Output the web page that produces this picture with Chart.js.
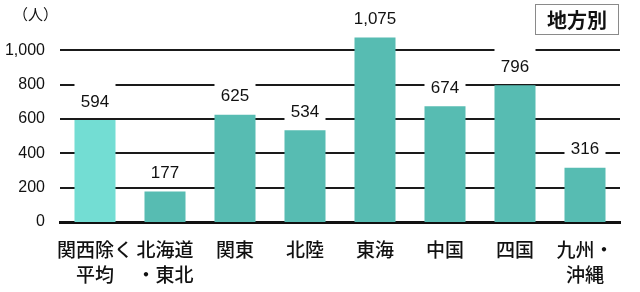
<!DOCTYPE html>
<html>
<head>
<meta charset="utf-8">
<script src="https://cdn.jsdelivr.net/npm/chart.js@4/dist/chart.umd.min.js"></script>
<style>
  html, body { margin: 0; padding: 0; background: #fff; }
  #wrap { position: relative; width: 640px; height: 292px; }
  #unit { position: absolute; left: 13px; top: 3px; font: 15px "Noto Sans CJK JP", sans-serif; color: #111; }
  #tag { position: absolute; left: 535px; top: 4px; width: 82px; height: 29px; border: 1.5px solid #8a8a8a;
         font: bold 20px "Noto Sans CJK JP", sans-serif; color: #111; text-align: center; line-height: 29px; }
</style>
</head>
<body>
<div id="wrap">
  <canvas id="c" width="640" height="292"></canvas>
  <div id="unit">（人）</div>
  <div id="tag">地方別</div>
</div>
<script>
const categories = [["関西除く","平均"], ["北海道","・東北"], "関東", "北陸", "東海", "中国", "四国", ["九州・","沖縄"]];
const values = [594, 177, 625, 534, 1075, 674, 796, 316];
const tickValues = [0, 200, 400, 600, 800, 1000];
const barColors = ["#73DDD3", "#57BCB2", "#57BCB2", "#57BCB2", "#57BCB2", "#57BCB2", "#57BCB2", "#57BCB2"];

const labelPlugin = {
  id: 'valueLabels',
  afterDatasetsDraw(chart) {
    const ctx = chart.ctx;
    const meta = chart.getDatasetMeta(0);
    ctx.save();
    ctx.font = '17px "Liberation Sans", Arial, sans-serif';
    ctx.textAlign = 'center';
    ctx.textBaseline = 'middle';
    meta.data.forEach((el, i) => {
      const cy = el.y - 19;
      ctx.fillStyle = '#ffffff';
      ctx.fillRect(el.x - el.width / 2, cy - 18, el.width, 30);
      ctx.fillStyle = '#111';
      ctx.fillText(values[i].toLocaleString('en-US'), el.x, cy + 1);
    });
    ctx.restore();
  }
};

new Chart(document.getElementById('c'), {
  type: 'bar',
  data: {
    labels: categories,
    datasets: [{
      data: values,
      backgroundColor: barColors,
      borderWidth: 0,
      barPercentage: 0.586,
      categoryPercentage: 1.0
    }]
  },
  options: {
    responsive: false,
    animation: false,
    devicePixelRatio: 1,
    layout: { padding: { top: 8, right: 20, left: 0, bottom: 0 } },
    plugins: { legend: { display: false }, tooltip: { enabled: false } },
    scales: {
      x: {
        grid: { display: false, drawTicks: false },
        border: { display: true, color: '#111', width: 3 },
        ticks: {
          color: '#111',
          padding: 15,
          maxRotation: 0,
          autoSkip: false,
          font: { family: '"Noto Sans CJK JP", sans-serif', size: 19, weight: '500', lineHeight: '25px' }
        },
        afterFit(scale) { scale.height = 70; }
      },
      y: {
        min: 0,
        max: 1150,
        afterBuildTicks(scale) { scale.ticks = tickValues.map(v => ({ value: v })); },
        grid: {
          drawTicks: false,
          color: '#1a1a1a',
          lineWidth: (c) => (c.tick && c.tick.value === 0 ? 0 : 2)
        },
        border: { display: false },
        ticks: {
          color: '#111',
          padding: 15,
          font: { family: '"Liberation Sans", Arial, sans-serif', size: 16 },
          callback: (v) => Number(v).toLocaleString('en-US')
        },
        afterFit(scale) { scale.width = 60; }
      }
    }
  },
  plugins: [labelPlugin]
});
</script>
</body>
</html>
